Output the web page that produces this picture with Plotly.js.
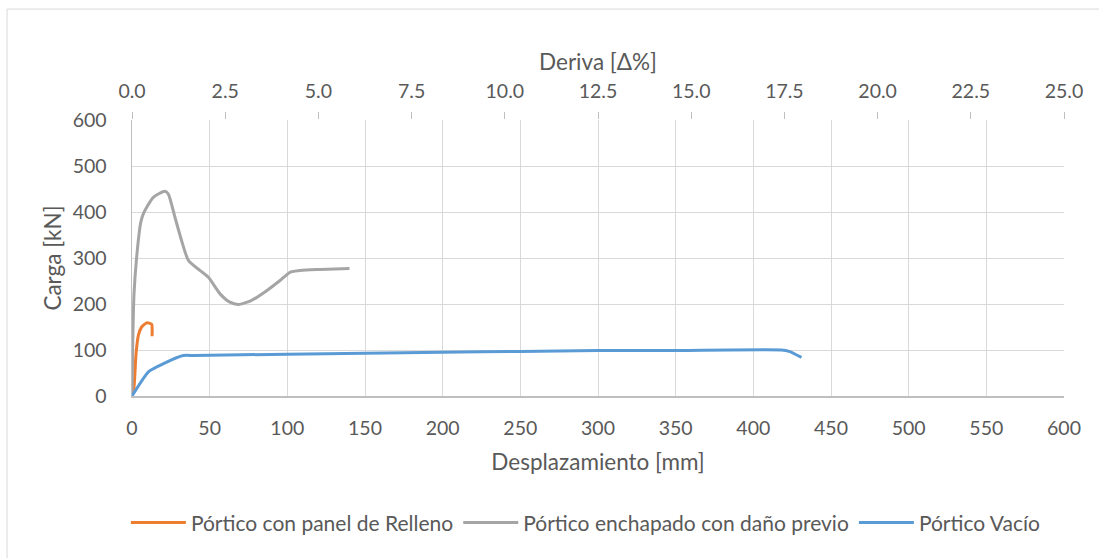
<!DOCTYPE html>
<html>
<head>
<meta charset="utf-8">
<script src="https://cdn.plot.ly/plotly-3.0.1.min.js"></script>
<style>html,body{margin:0;padding:0;background:#fff;}#chart{width:1099px;height:558px;}</style>
</head>
<body>
<div id="chart"></div>
<script>
// Series names
const seriesNames = ["Pórtico con panel de Relleno", "Pórtico enchapado con daño previo", "Pórtico Vacío"];

// Desplazamiento [mm] / Carga [kN]
const rellenoX = [0, 1.3, 2.6, 4.1, 6.2, 9.4, 11.5, 12.7, 13.0, 12.9];
const rellenoY = [0, 20, 92, 132, 150, 159, 158, 156, 143, 130];

const enchapadoX = [0, 0.5, 1.3, 3.0, 5.6, 7.3, 13.7, 21.2, 23.4, 27.7, 31.9, 36.3, 43.7, 49.2, 56.7, 63.0, 68.5, 77.0, 86.7, 95.3, 101.7, 112.5, 121.0, 140.0];
const enchapadoY = [0, 120, 222, 302, 377, 396, 432, 445, 439, 388, 338, 295, 273, 258, 222, 204, 199, 208, 229, 251, 269, 274, 275, 277];

const vacioX = [0, 10.7, 20, 33, 40, 100, 150, 200, 250, 300, 350, 418, 423, 431];
const vacioY = [0, 53, 70, 88, 88, 91, 93, 95, 97, 99, 99, 100, 97, 84];

// Axis ranges / ticks
const desplRange = [0, 600];
const derivaRange = [0, 25];
const cargaRange = [0, 600];

const font = "Lato, 'Liberation Sans', sans-serif";
const txt = "#595959";

const traces = [
  {x: rellenoX, y: rellenoY, name: seriesNames[0], mode: "lines",
   line: {color: "#ED7D31", width: 3, shape: "spline", smoothing: 0.6}},
  {x: enchapadoX, y: enchapadoY, name: seriesNames[1], mode: "lines",
   line: {color: "#A5A5A5", width: 3, shape: "spline", smoothing: 0.6}},
  {x: vacioX, y: vacioY, name: seriesNames[2], mode: "lines",
   line: {color: "#5B9BD5", width: 3, shape: "spline", smoothing: 0.5}}
];

const layout = {
  width: 1099, height: 558,
  margin: {l: 132, r: 35, t: 120, b: 162},
  paper_bgcolor: "#fff", plot_bgcolor: "#fff",
  font: {family: font, color: txt, size: 19},
  showlegend: true,
  legend: {orientation: "h", x: 0.487, xanchor: "center", y: -0.46, yanchor: "middle",
           font: {size: 21, color: txt}, itemwidth: 55, tracegroupgap: 0},
  xaxis: {range: desplRange, dtick: 50, tick0: 0, showgrid: true, gridcolor: "#d9d9d9", gridwidth: 1,
          showline: true, linecolor: "#bfbfbf", linewidth: 1.5, ticks: "", zeroline: false,
          tickfont: {size: 19.5, color: txt}, ticklabelstandoff: 14,
          title: {text: "Desplazamiento [mm]", font: {size: 22.5, color: txt}, standoff: 16}},
  xaxis2: {range: derivaRange, dtick: 2.5, tick0: 0, tickformat: ".1f", overlaying: "x", side: "top", anchor: "y",
           showgrid: false, showline: false, ticks: "outside", ticklen: 7, tickcolor: "#bfbfbf", tickwidth: 1,
           zeroline: false, tickfont: {size: 19.5, color: txt}, ticklabelstandoff: 6,
           title: {text: "Deriva [Δ%]", font: {size: 22.5, color: txt}, standoff: 2}},
  yaxis: {range: cargaRange, dtick: 100, tick0: 0, showgrid: true, gridcolor: "#d9d9d9", gridwidth: 1,
          showline: true, linecolor: "#bfbfbf", linewidth: 1.5, ticks: "", zeroline: false,
          tickfont: {size: 19.5, color: txt}, ticklabelstandoff: 20,
          title: {text: "Carga [kN]", font: {size: 22.5, color: txt}, standoff: 5}},
  shapes: [
    {type: "rect", xref: "paper", yref: "paper", x0: -0.1341, x1: 1.2, y0: -1.0, y1: 1.402,
     line: {color: "#d9d9d9", width: 1}, fillcolor: "rgba(0,0,0,0)", layer: "below"}
  ]
};

// binding for top axis so it is drawn
traces.push({x: derivaRange, y: [null, null], xaxis: "x2", yaxis: "y", mode: "lines", showlegend: false, hoverinfo: "skip"});

Plotly.newPlot("chart", traces, layout, {displayModeBar: false, staticPlot: true});
</script>
</body>
</html>
